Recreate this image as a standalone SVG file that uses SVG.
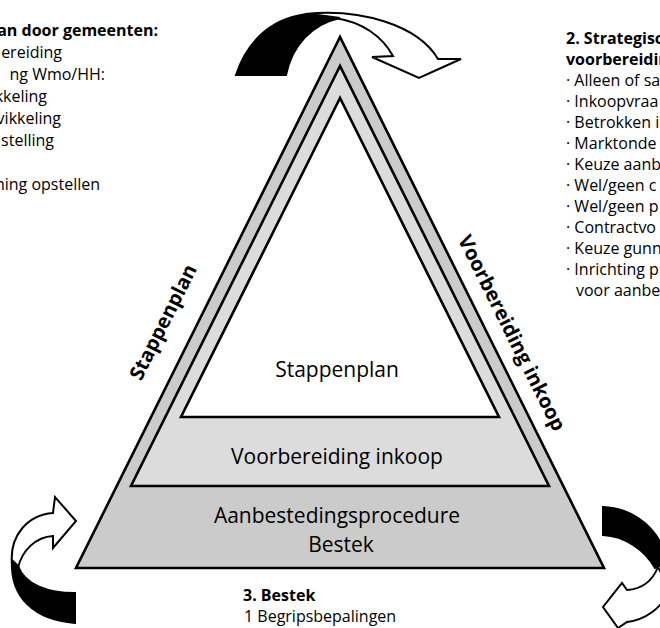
<svg xmlns="http://www.w3.org/2000/svg" width="660" height="628" viewBox="0 0 660 628">
<style>
.t{font-family:"Open Sans",Lato,"DejaVu Sans",sans-serif;fill:#000;}
.body{font-size:16px;}
.b{font-weight:700;}
.lbl{font-size:21px;text-anchor:middle;}
.side{font-size:20px;font-weight:700;text-anchor:middle;}
.tri{stroke:#000;stroke-width:2.6;stroke-linejoin:miter;}
.arw{stroke:#000;stroke-width:2;stroke-linejoin:miter;}
</style>
<rect width="660" height="628" fill="#fff"/>
<g id="connectors">
  <g id="arrow-top">
    <path class="arw" fill="#fff" d="M305,14 C360,8 418,25 438,59 L461,59 L419,78 L372,57 L393,56 C382,36 362,22 335,18 Z"/>
    <path class="arw" fill="#000" d="M236,75 C248,38 276,16 310,14 L340,18 C312,24 292,45 286,75 Z"/>
  </g>
  <g id="arrow-left">
    <path class="arw" fill="#fff" d="M12,565 C9,535 28,515 53,513 L55,497 L76,521 L53,548 L53,536 C36,537 22,550 18,568 Z"/>
    <path class="arw" fill="#000" d="M75,593 L75,623 C35,620 10,598 12,560 L18,566 C25,585 48,593 75,593 Z"/>
  </g>
  <g id="arrow-right">
    <path class="arw" fill="#fff" d="M658,567 C652,582 642,589 627,590 L622,583 L603,607 L618,628 L627,622 C645,620 662,608 670,590 Z"/>
    <path class="arw" fill="#000" d="M603,507 L603,535 C625,536 645,550 655,568 L668,562 C660,530 635,508 603,507 Z"/>
  </g>
</g>
<g id="pyramid">
  <g id="layer-aanbesteding">
    <path class="tri" fill="#cbcbcb" d="M340,37 L76,568 L604,568 Z"/>
    <text class="t lbl" x="337" y="523">Aanbestedingsprocedure</text>
    <text class="t lbl" x="341" y="552">Bestek</text>
  </g>
  <g id="layer-voorbereiding">
    <path class="tri" fill="#dcdcdc" d="M340,66 L131,486 L549,486 Z"/>
    <text class="t lbl" x="337" y="464">Voorbereiding inkoop</text>
  </g>
  <g id="layer-stappenplan">
    <path class="tri" fill="#fff" d="M340,98 L181,417 L499,417 Z"/>
    <text class="t lbl" x="337" y="377">Stappenplan</text>
  </g>
</g>
<g id="side-left" transform="translate(163,322) rotate(-63.5)">
  <text class="t side" x="0" y="7">Stappenplan</text>
</g>
<g id="side-right" transform="translate(512,333) rotate(63.5)">
  <text class="t side" x="0" y="7">Voorbereiding inkoop</text>
</g>
<g id="text-1" class="t body" text-anchor="end">
  <text class="b" x="158" y="36">an door gemeenten:</text>
  <text x="62" y="58">ereiding</text>
  <text x="105" y="80">ng Wmo/HH:</text>
  <text x="47" y="102">kkeling</text>
  <text x="61" y="124">vikkeling</text>
  <text x="54" y="146">stelling</text>
  <text x="100" y="190">ning opstellen</text>
</g>
<g id="text-2" class="t body">
  <text class="b" x="566" y="44">2. Strategisc</text>
  <text class="b" x="566" y="65">voorbereidin</text>
  <text x="566" y="86">· Alleen of sa</text>
  <text x="566" y="107">· Inkoopvraa</text>
  <text x="566" y="128">· Betrokken i</text>
  <text x="566" y="149">· Marktonde</text>
  <text x="566" y="170">· Keuze aanb</text>
  <text x="566" y="191">· Wel/geen c</text>
  <text x="566" y="212">· Wel/geen p</text>
  <text x="566" y="233">· Contractvo</text>
  <text x="566" y="254">· Keuze gunn</text>
  <text x="566" y="275">· Inrichting p</text>
  <text x="576" y="296">voor aanbe</text>
</g>
<g id="text-3" class="t body">
  <text class="b" x="243" y="601">3. Bestek</text>
  <text x="244" y="622">1 Begripsbepalingen</text>
</g>
</svg>
